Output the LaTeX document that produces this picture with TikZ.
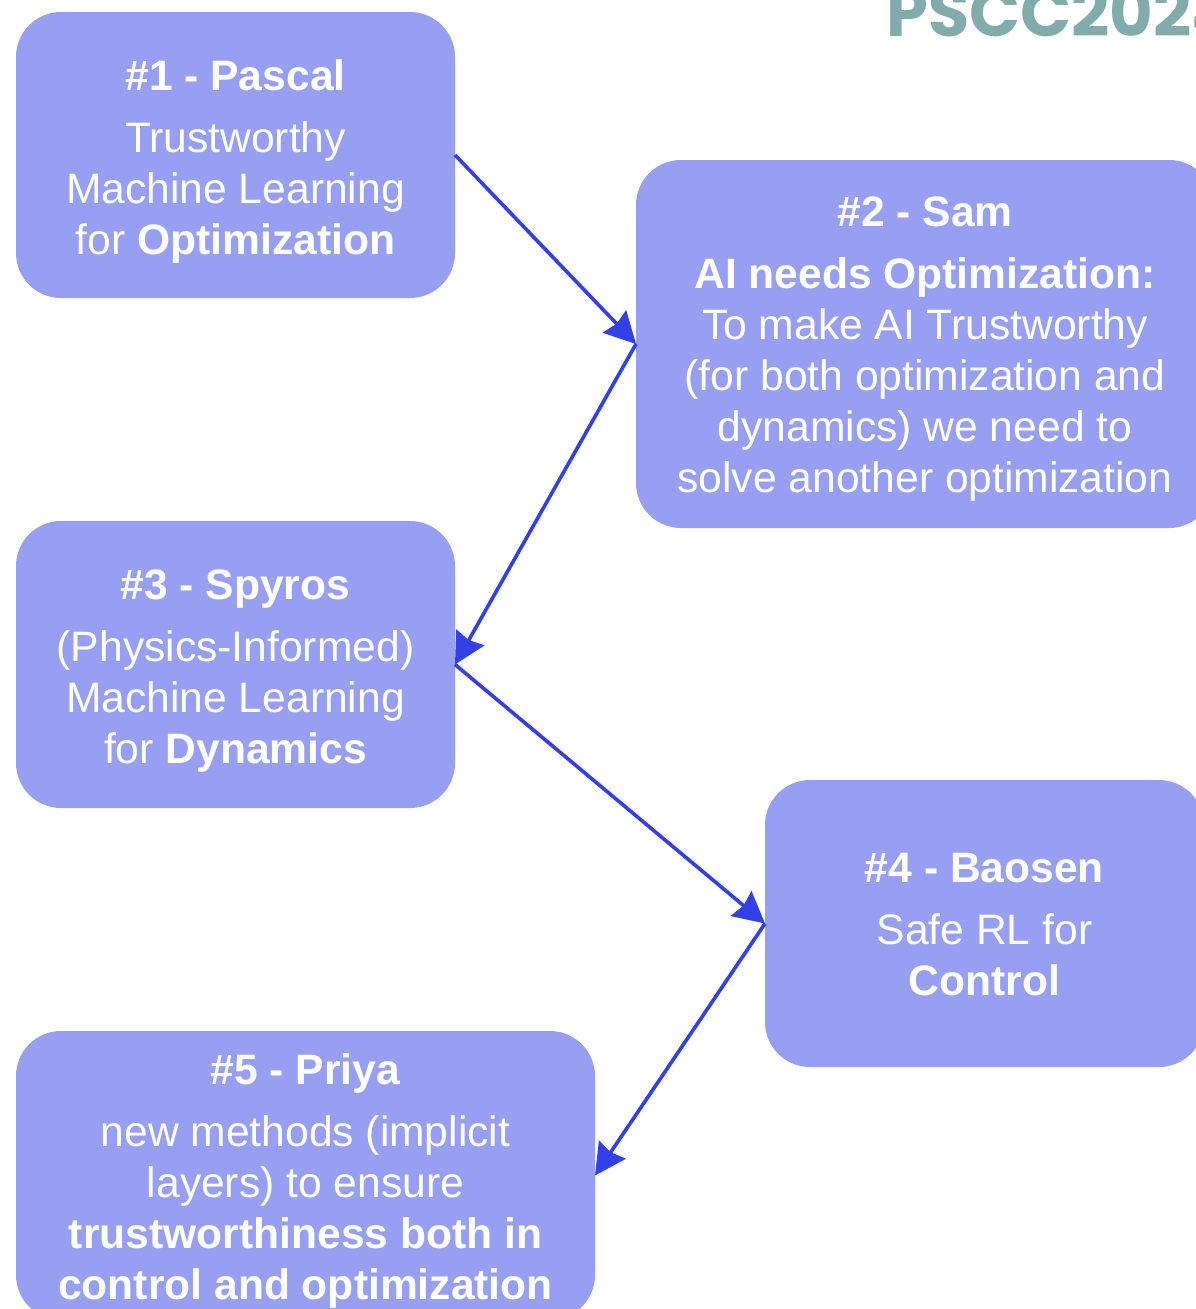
\documentclass[tikz,border=0pt]{standalone}
\usepackage{fontspec}
\setmainfont{Liberation Sans}
\newfontfamily\psccfont{Poppins}
\usetikzlibrary{arrows.meta}
\definecolor{boxfill}{RGB}{151,159,242}
\definecolor{arrowblue}{RGB}{50,64,232}
\definecolor{psccteal}{RGB}{130,172,172}
\tikzset{
  card/.style={fill=boxfill, draw=none, rounded corners=45pt, inner sep=0pt, outer sep=0pt},
  cardtext/.style={inner sep=0pt, align=center, text=white, font=\fontsize{42.6}{51}\selectfont},
  link/.style={arrowblue, line width=3.6pt, -{Stealth[length=31pt,width=32pt,inset=3pt]}}
}
\begin{document}
\begin{tikzpicture}[x=1pt,y=-1pt]
\clip (0,0) rectangle (1196,1309);
\fill[white] (0,0) rectangle (1196,1309);
\node[anchor=base west, text=psccteal, font=\psccfont\bfseries\fontsize{67}{67}\selectfont, inner sep=0pt] (logo) at (886,36) {PSCC2024};
\node[card, minimum width=439pt, minimum height=286pt] (b1) at (235.5,155) {};
\node[card, minimum width=578pt, minimum height=368pt] (b2) at (925,344) {};
\node[card, minimum width=439pt, minimum height=287pt] (b3) at (235.5,664.5) {};
\node[card, minimum width=439pt, minimum height=287pt] (b4) at (984.5,923.5) {};
\node[card, minimum width=579pt, minimum height=289pt] (b5) at (305.5,1175.5) {};
\node[cardtext, yshift=-6pt] (t1) at (b1.center)
  {\textbf{\#1 - Pascal}\\[11pt]Trustworthy\\Machine Learning\\for \textbf{Optimization}};
\node[cardtext, yshift=-5pt] (t2) at (b2.center)
  {\textbf{\#2 - Sam}\\[11pt]\textbf{AI needs Optimization:}\\To make AI Trustworthy\\(for both optimization and\\dynamics) we need to\\solve another optimization};
\node[cardtext, yshift=-7pt] (t3) at (b3.center)
  {\textbf{\#3 - Spyros}\\[11pt](Physics-Informed)\\Machine Learning\\for \textbf{Dynamics}};
\node[cardtext, yshift=-1.5pt] (t4) at (b4.center)
  {\textbf{\#4 - Baosen}\\[11pt]Safe RL for\\\textbf{Control}};
\node[cardtext, yshift=-5pt] (t5) at (b5.center)
  {\textbf{\#5 - Priya}\\[11pt]new methods (implicit\\layers) to ensure\\\textbf{trustworthiness both in}\\\textbf{control and optimization}};
\draw[link] (b1.east) -- (b2.west);
\draw[link] (b2.west) -- (b3.east);
\draw[link] (b3.east) -- (b4.west);
\draw[link] (b4.west) -- (b5.east);
\end{tikzpicture}
\end{document}
